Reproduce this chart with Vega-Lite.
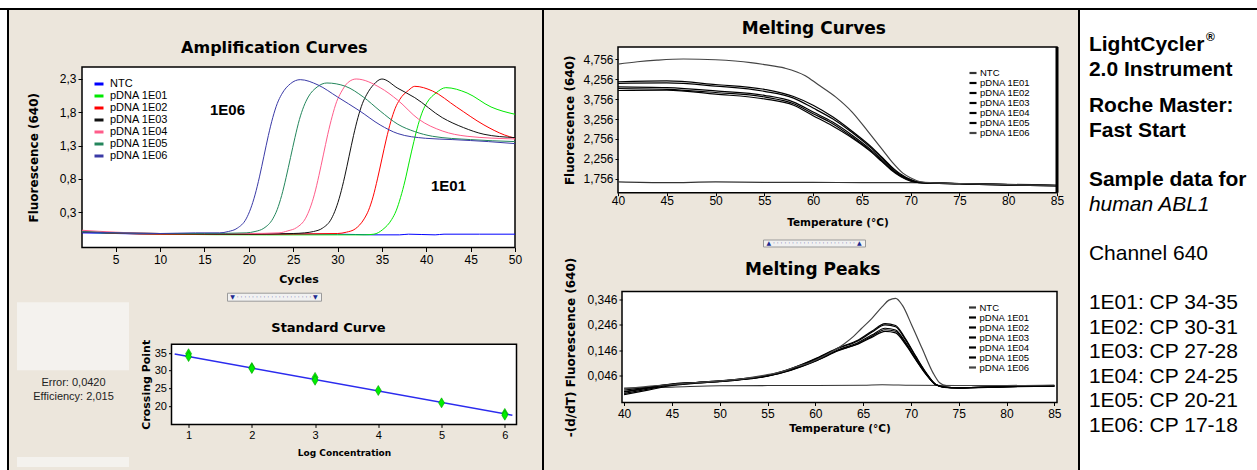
{
"$schema": "https://vega.github.io/schema/vega-lite/v6.json",
"background": "#ECE6DC",
"padding": 0,
"spacing": 0,
"resolve": {"scale": {"color": "independent"}, "legend": {"color": "independent"}},
"config": {
  "view": {"stroke": null},
  "axis": {"grid": false, "domain": false, "tickColor": "#000", "labelColor": "#000", "titleColor": "#000", "labelFont": "Liberation Sans", "titleFont": "DejaVu Sans", "titleFontWeight": "bold", "labelFlush": false, "labelOverlap": false, "labelBound": false, "labelSeparation": 0, "minExtent": 0, "maxExtent": 300, "tickWidth": 1},
  "title": {"font": "DejaVu Sans", "fontWeight": "bold", "color": "#000", "frame": "bounds", "anchor": "middle", "baseline": "alphabetic"},
  "legend": {"labelFont": "Liberation Sans", "labelColor": "#000", "symbolType": "stroke", "padding": 0}
},
"datasets": {
  "amp": [
    {"sample":"NTC","cycle":1,"fluor":-0.01},{"sample":"NTC","cycle":5,"fluor":-0.02},{"sample":"NTC","cycle":10,"fluor":-0.03},{"sample":"NTC","cycle":15,"fluor":-0.03},{"sample":"NTC","cycle":20,"fluor":-0.03},{"sample":"NTC","cycle":25,"fluor":-0.03},{"sample":"NTC","cycle":30,"fluor":-0.03},{"sample":"NTC","cycle":34,"fluor":-0.04},{"sample":"NTC","cycle":37,"fluor":-0.04},{"sample":"NTC","cycle":38,"fluor":-0.03},{"sample":"NTC","cycle":41,"fluor":-0.04},{"sample":"NTC","cycle":42,"fluor":-0.03},{"sample":"NTC","cycle":46,"fluor":-0.03},{"sample":"NTC","cycle":50,"fluor":-0.03},
    {"sample":"pDNA 1E01","cycle":1,"fluor":0.0},{"sample":"pDNA 1E01","cycle":10,"fluor":-0.03},{"sample":"pDNA 1E01","cycle":22,"fluor":-0.04},{"sample":"pDNA 1E01","cycle":30,"fluor":-0.04},{"sample":"pDNA 1E01","cycle":33,"fluor":-0.04},{"sample":"pDNA 1E01","cycle":34.1,"fluor":-0.03},{"sample":"pDNA 1E01","cycle":35.1,"fluor":0.04},{"sample":"pDNA 1E01","cycle":36.1,"fluor":0.19},{"sample":"pDNA 1E01","cycle":36.6,"fluor":0.32},{"sample":"pDNA 1E01","cycle":37.1,"fluor":0.52},{"sample":"pDNA 1E01","cycle":37.6,"fluor":0.77},{"sample":"pDNA 1E01","cycle":38.1,"fluor":1.07},{"sample":"pDNA 1E01","cycle":38.6,"fluor":1.36},{"sample":"pDNA 1E01","cycle":39.1,"fluor":1.62},{"sample":"pDNA 1E01","cycle":39.6,"fluor":1.82},{"sample":"pDNA 1E01","cycle":40.1,"fluor":1.95},{"sample":"pDNA 1E01","cycle":41.1,"fluor":2.09},{"sample":"pDNA 1E01","cycle":42.2,"fluor":2.17},{"sample":"pDNA 1E01","cycle":44.6,"fluor":2.09},{"sample":"pDNA 1E01","cycle":47.3,"fluor":1.88},{"sample":"pDNA 1E01","cycle":50,"fluor":1.77},
    {"sample":"pDNA 1E02","cycle":1,"fluor":0.01},{"sample":"pDNA 1E02","cycle":10,"fluor":-0.03},{"sample":"pDNA 1E02","cycle":20,"fluor":-0.03},{"sample":"pDNA 1E02","cycle":30,"fluor":-0.02},{"sample":"pDNA 1E02","cycle":31,"fluor":0.0},{"sample":"pDNA 1E02","cycle":32,"fluor":0.05},{"sample":"pDNA 1E02","cycle":33,"fluor":0.2},{"sample":"pDNA 1E02","cycle":33.5,"fluor":0.33},{"sample":"pDNA 1E02","cycle":34,"fluor":0.53},{"sample":"pDNA 1E02","cycle":34.5,"fluor":0.8},{"sample":"pDNA 1E02","cycle":35,"fluor":1.1},{"sample":"pDNA 1E02","cycle":35.5,"fluor":1.4},{"sample":"pDNA 1E02","cycle":36,"fluor":1.66},{"sample":"pDNA 1E02","cycle":36.5,"fluor":1.86},{"sample":"pDNA 1E02","cycle":37,"fluor":1.99},{"sample":"pDNA 1E02","cycle":38,"fluor":2.13},{"sample":"pDNA 1E02","cycle":38.7,"fluor":2.19},{"sample":"pDNA 1E02","cycle":40.7,"fluor":2.12},{"sample":"pDNA 1E02","cycle":43.4,"fluor":1.88},{"sample":"pDNA 1E02","cycle":46.5,"fluor":1.61},{"sample":"pDNA 1E02","cycle":48.8,"fluor":1.46},{"sample":"pDNA 1E02","cycle":50,"fluor":1.41},
    {"sample":"pDNA 1E03","cycle":1,"fluor":0.0},{"sample":"pDNA 1E03","cycle":10,"fluor":-0.02},{"sample":"pDNA 1E03","cycle":20,"fluor":-0.03},{"sample":"pDNA 1E03","cycle":25,"fluor":-0.02},{"sample":"pDNA 1E03","cycle":26.3,"fluor":-0.01},{"sample":"pDNA 1E03","cycle":27.3,"fluor":0.01},{"sample":"pDNA 1E03","cycle":28.3,"fluor":0.06},{"sample":"pDNA 1E03","cycle":29.3,"fluor":0.2},{"sample":"pDNA 1E03","cycle":29.8,"fluor":0.35},{"sample":"pDNA 1E03","cycle":30.3,"fluor":0.56},{"sample":"pDNA 1E03","cycle":30.8,"fluor":0.83},{"sample":"pDNA 1E03","cycle":31.3,"fluor":1.14},{"sample":"pDNA 1E03","cycle":31.8,"fluor":1.45},{"sample":"pDNA 1E03","cycle":32.3,"fluor":1.72},{"sample":"pDNA 1E03","cycle":32.8,"fluor":1.93},{"sample":"pDNA 1E03","cycle":33.3,"fluor":2.07},{"sample":"pDNA 1E03","cycle":34.1,"fluor":2.22},{"sample":"pDNA 1E03","cycle":35,"fluor":2.3},{"sample":"pDNA 1E03","cycle":36.8,"fluor":2.16},{"sample":"pDNA 1E03","cycle":38.7,"fluor":2.02},{"sample":"pDNA 1E03","cycle":41.8,"fluor":1.72},{"sample":"pDNA 1E03","cycle":44.2,"fluor":1.57},{"sample":"pDNA 1E03","cycle":46.5,"fluor":1.47},{"sample":"pDNA 1E03","cycle":50,"fluor":1.42},
    {"sample":"pDNA 1E04","cycle":1,"fluor":0.03},{"sample":"pDNA 1E04","cycle":5,"fluor":0.0},{"sample":"pDNA 1E04","cycle":10,"fluor":-0.02},{"sample":"pDNA 1E04","cycle":20,"fluor":-0.02},{"sample":"pDNA 1E04","cycle":23.4,"fluor":-0.01},{"sample":"pDNA 1E04","cycle":24.4,"fluor":0.02},{"sample":"pDNA 1E04","cycle":25.4,"fluor":0.07},{"sample":"pDNA 1E04","cycle":26.4,"fluor":0.21},{"sample":"pDNA 1E04","cycle":26.9,"fluor":0.36},{"sample":"pDNA 1E04","cycle":27.4,"fluor":0.57},{"sample":"pDNA 1E04","cycle":27.9,"fluor":0.85},{"sample":"pDNA 1E04","cycle":28.4,"fluor":1.16},{"sample":"pDNA 1E04","cycle":28.9,"fluor":1.47},{"sample":"pDNA 1E04","cycle":29.4,"fluor":1.74},{"sample":"pDNA 1E04","cycle":29.9,"fluor":1.96},{"sample":"pDNA 1E04","cycle":30.4,"fluor":2.1},{"sample":"pDNA 1E04","cycle":31.2,"fluor":2.25},{"sample":"pDNA 1E04","cycle":32.1,"fluor":2.3},{"sample":"pDNA 1E04","cycle":34.8,"fluor":2.17},{"sample":"pDNA 1E04","cycle":36.8,"fluor":1.98},{"sample":"pDNA 1E04","cycle":39.1,"fluor":1.7},{"sample":"pDNA 1E04","cycle":41.8,"fluor":1.52},{"sample":"pDNA 1E04","cycle":44.6,"fluor":1.44},{"sample":"pDNA 1E04","cycle":50,"fluor":1.4},
    {"sample":"pDNA 1E05","cycle":1,"fluor":0.01},{"sample":"pDNA 1E05","cycle":5,"fluor":-0.01},{"sample":"pDNA 1E05","cycle":10,"fluor":-0.02},{"sample":"pDNA 1E05","cycle":15,"fluor":-0.02},{"sample":"pDNA 1E05","cycle":19.7,"fluor":-0.01},{"sample":"pDNA 1E05","cycle":20.7,"fluor":0.01},{"sample":"pDNA 1E05","cycle":21.7,"fluor":0.06},{"sample":"pDNA 1E05","cycle":22.7,"fluor":0.2},{"sample":"pDNA 1E05","cycle":23.2,"fluor":0.34},{"sample":"pDNA 1E05","cycle":23.7,"fluor":0.55},{"sample":"pDNA 1E05","cycle":24.2,"fluor":0.82},{"sample":"pDNA 1E05","cycle":24.7,"fluor":1.12},{"sample":"pDNA 1E05","cycle":25.2,"fluor":1.42},{"sample":"pDNA 1E05","cycle":25.7,"fluor":1.69},{"sample":"pDNA 1E05","cycle":26.2,"fluor":1.89},{"sample":"pDNA 1E05","cycle":26.7,"fluor":2.03},{"sample":"pDNA 1E05","cycle":27.7,"fluor":2.18},{"sample":"pDNA 1E05","cycle":28.8,"fluor":2.24},{"sample":"pDNA 1E05","cycle":30.9,"fluor":2.19},{"sample":"pDNA 1E05","cycle":32.9,"fluor":2.03},{"sample":"pDNA 1E05","cycle":34.8,"fluor":1.82},{"sample":"pDNA 1E05","cycle":36.8,"fluor":1.62},{"sample":"pDNA 1E05","cycle":38.7,"fluor":1.51},{"sample":"pDNA 1E05","cycle":40.7,"fluor":1.44},{"sample":"pDNA 1E05","cycle":45,"fluor":1.39},{"sample":"pDNA 1E05","cycle":50,"fluor":1.36},
    {"sample":"pDNA 1E06","cycle":1,"fluor":0.0},{"sample":"pDNA 1E06","cycle":5,"fluor":-0.01},{"sample":"pDNA 1E06","cycle":10,"fluor":-0.02},{"sample":"pDNA 1E06","cycle":14,"fluor":-0.01},{"sample":"pDNA 1E06","cycle":16.7,"fluor":-0.01},{"sample":"pDNA 1E06","cycle":17.7,"fluor":0.01},{"sample":"pDNA 1E06","cycle":18.7,"fluor":0.06},{"sample":"pDNA 1E06","cycle":19.7,"fluor":0.2},{"sample":"pDNA 1E06","cycle":20.2,"fluor":0.35},{"sample":"pDNA 1E06","cycle":20.7,"fluor":0.56},{"sample":"pDNA 1E06","cycle":21.2,"fluor":0.83},{"sample":"pDNA 1E06","cycle":21.7,"fluor":1.14},{"sample":"pDNA 1E06","cycle":22.2,"fluor":1.45},{"sample":"pDNA 1E06","cycle":22.7,"fluor":1.72},{"sample":"pDNA 1E06","cycle":23.2,"fluor":1.93},{"sample":"pDNA 1E06","cycle":23.7,"fluor":2.07},{"sample":"pDNA 1E06","cycle":24.7,"fluor":2.23},{"sample":"pDNA 1E06","cycle":25.8,"fluor":2.29},{"sample":"pDNA 1E06","cycle":27.8,"fluor":2.21},{"sample":"pDNA 1E06","cycle":30,"fluor":2.03},{"sample":"pDNA 1E06","cycle":32.5,"fluor":1.82},{"sample":"pDNA 1E06","cycle":34.8,"fluor":1.61},{"sample":"pDNA 1E06","cycle":36.8,"fluor":1.48},{"sample":"pDNA 1E06","cycle":39.9,"fluor":1.41},{"sample":"pDNA 1E06","cycle":43,"fluor":1.39},{"sample":"pDNA 1E06","cycle":47,"fluor":1.36},{"sample":"pDNA 1E06","cycle":50,"fluor":1.33}
  ],
  "ampLabels": [{"label":"1E06","cycle":17.6,"fluor":1.83},{"label":"1E01","cycle":42.5,"fluor":0.7}],
  "melt": [
    {"sample":"NTC","temp":40,"fluor":1.68},{"sample":"NTC","temp":45,"fluor":1.66},{"sample":"NTC","temp":50,"fluor":1.68},{"sample":"NTC","temp":55,"fluor":1.67},{"sample":"NTC","temp":60,"fluor":1.67},{"sample":"NTC","temp":65,"fluor":1.66},{"sample":"NTC","temp":70,"fluor":1.66},{"sample":"NTC","temp":75,"fluor":1.64},{"sample":"NTC","temp":80,"fluor":1.62},{"sample":"NTC","temp":85,"fluor":1.6},
    {"sample":"pDNA 1E01","temp":40,"fluor":4.19},{"sample":"pDNA 1E01","temp":45,"fluor":4.21},{"sample":"pDNA 1E01","temp":50,"fluor":4.12},{"sample":"pDNA 1E01","temp":55,"fluor":4.0},{"sample":"pDNA 1E01","temp":58,"fluor":3.82},{"sample":"pDNA 1E01","temp":60,"fluor":3.6},{"sample":"pDNA 1E01","temp":62,"fluor":3.31},{"sample":"pDNA 1E01","temp":64,"fluor":2.95},{"sample":"pDNA 1E01","temp":66,"fluor":2.55},{"sample":"pDNA 1E01","temp":67,"fluor":2.31},{"sample":"pDNA 1E01","temp":68,"fluor":2.07},{"sample":"pDNA 1E01","temp":69,"fluor":1.87},{"sample":"pDNA 1E01","temp":70,"fluor":1.74},{"sample":"pDNA 1E01","temp":71,"fluor":1.67},{"sample":"pDNA 1E01","temp":75,"fluor":1.64},{"sample":"pDNA 1E01","temp":80,"fluor":1.61},{"sample":"pDNA 1E01","temp":85,"fluor":1.59},
    {"sample":"pDNA 1E02","temp":40,"fluor":4.15},{"sample":"pDNA 1E02","temp":45,"fluor":4.16},{"sample":"pDNA 1E02","temp":50,"fluor":4.08},{"sample":"pDNA 1E02","temp":55,"fluor":3.95},{"sample":"pDNA 1E02","temp":58,"fluor":3.78},{"sample":"pDNA 1E02","temp":60,"fluor":3.53},{"sample":"pDNA 1E02","temp":62,"fluor":3.26},{"sample":"pDNA 1E02","temp":64,"fluor":2.92},{"sample":"pDNA 1E02","temp":66,"fluor":2.52},{"sample":"pDNA 1E02","temp":67,"fluor":2.29},{"sample":"pDNA 1E02","temp":68,"fluor":2.05},{"sample":"pDNA 1E02","temp":69,"fluor":1.85},{"sample":"pDNA 1E02","temp":70,"fluor":1.73},{"sample":"pDNA 1E02","temp":71,"fluor":1.67},{"sample":"pDNA 1E02","temp":75,"fluor":1.64},{"sample":"pDNA 1E02","temp":80,"fluor":1.61},{"sample":"pDNA 1E02","temp":85,"fluor":1.59},
    {"sample":"pDNA 1E03","temp":40,"fluor":4.06},{"sample":"pDNA 1E03","temp":45,"fluor":4.04},{"sample":"pDNA 1E03","temp":50,"fluor":3.96},{"sample":"pDNA 1E03","temp":55,"fluor":3.85},{"sample":"pDNA 1E03","temp":58,"fluor":3.68},{"sample":"pDNA 1E03","temp":60,"fluor":3.43},{"sample":"pDNA 1E03","temp":62,"fluor":3.18},{"sample":"pDNA 1E03","temp":64,"fluor":2.85},{"sample":"pDNA 1E03","temp":66,"fluor":2.47},{"sample":"pDNA 1E03","temp":67,"fluor":2.25},{"sample":"pDNA 1E03","temp":68,"fluor":2.02},{"sample":"pDNA 1E03","temp":69,"fluor":1.83},{"sample":"pDNA 1E03","temp":70,"fluor":1.72},{"sample":"pDNA 1E03","temp":71,"fluor":1.66},{"sample":"pDNA 1E03","temp":75,"fluor":1.64},{"sample":"pDNA 1E03","temp":80,"fluor":1.61},{"sample":"pDNA 1E03","temp":85,"fluor":1.59},
    {"sample":"pDNA 1E04","temp":40,"fluor":4.02},{"sample":"pDNA 1E04","temp":45,"fluor":4.0},{"sample":"pDNA 1E04","temp":50,"fluor":3.92},{"sample":"pDNA 1E04","temp":55,"fluor":3.81},{"sample":"pDNA 1E04","temp":58,"fluor":3.64},{"sample":"pDNA 1E04","temp":60,"fluor":3.39},{"sample":"pDNA 1E04","temp":62,"fluor":3.14},{"sample":"pDNA 1E04","temp":64,"fluor":2.81},{"sample":"pDNA 1E04","temp":66,"fluor":2.44},{"sample":"pDNA 1E04","temp":67,"fluor":2.22},{"sample":"pDNA 1E04","temp":68,"fluor":2.0},{"sample":"pDNA 1E04","temp":69,"fluor":1.82},{"sample":"pDNA 1E04","temp":70,"fluor":1.71},{"sample":"pDNA 1E04","temp":71,"fluor":1.66},{"sample":"pDNA 1E04","temp":75,"fluor":1.63},{"sample":"pDNA 1E04","temp":80,"fluor":1.6},{"sample":"pDNA 1E04","temp":85,"fluor":1.58},
    {"sample":"pDNA 1E05","temp":40,"fluor":3.97},{"sample":"pDNA 1E05","temp":45,"fluor":3.98},{"sample":"pDNA 1E05","temp":50,"fluor":3.88},{"sample":"pDNA 1E05","temp":55,"fluor":3.76},{"sample":"pDNA 1E05","temp":58,"fluor":3.6},{"sample":"pDNA 1E05","temp":60,"fluor":3.34},{"sample":"pDNA 1E05","temp":62,"fluor":3.08},{"sample":"pDNA 1E05","temp":64,"fluor":2.78},{"sample":"pDNA 1E05","temp":66,"fluor":2.42},{"sample":"pDNA 1E05","temp":67,"fluor":2.2},{"sample":"pDNA 1E05","temp":68,"fluor":1.98},{"sample":"pDNA 1E05","temp":69,"fluor":1.81},{"sample":"pDNA 1E05","temp":70,"fluor":1.7},{"sample":"pDNA 1E05","temp":71,"fluor":1.66},{"sample":"pDNA 1E05","temp":75,"fluor":1.63},{"sample":"pDNA 1E05","temp":80,"fluor":1.6},{"sample":"pDNA 1E05","temp":85,"fluor":1.58},
    {"sample":"pDNA 1E06","temp":40,"fluor":4.63},{"sample":"pDNA 1E06","temp":42,"fluor":4.69},{"sample":"pDNA 1E06","temp":44,"fluor":4.73},{"sample":"pDNA 1E06","temp":46.7,"fluor":4.76},{"sample":"pDNA 1E06","temp":50,"fluor":4.74},{"sample":"pDNA 1E06","temp":53.6,"fluor":4.67},{"sample":"pDNA 1E06","temp":55,"fluor":4.62},{"sample":"pDNA 1E06","temp":57.1,"fluor":4.53},{"sample":"pDNA 1E06","temp":59.2,"fluor":4.34},{"sample":"pDNA 1E06","temp":60.5,"fluor":4.12},{"sample":"pDNA 1E06","temp":62.3,"fluor":3.81},{"sample":"pDNA 1E06","temp":64,"fluor":3.43},{"sample":"pDNA 1E06","temp":65.7,"fluor":2.92},{"sample":"pDNA 1E06","temp":67.1,"fluor":2.49},{"sample":"pDNA 1E06","temp":68.2,"fluor":2.15},{"sample":"pDNA 1E06","temp":69.2,"fluor":1.9},{"sample":"pDNA 1E06","temp":70.1,"fluor":1.77},{"sample":"pDNA 1E06","temp":70.9,"fluor":1.69},{"sample":"pDNA 1E06","temp":72,"fluor":1.66},{"sample":"pDNA 1E06","temp":75,"fluor":1.64},{"sample":"pDNA 1E06","temp":80,"fluor":1.61},{"sample":"pDNA 1E06","temp":85,"fluor":1.59}
  ],
  "peak": [
    {"sample":"NTC","temp":40,"dfdt":-0.004},{"sample":"NTC","temp":45,"dfdt":0.0},{"sample":"NTC","temp":50,"dfdt":0.005},{"sample":"NTC","temp":55,"dfdt":0.006},{"sample":"NTC","temp":60,"dfdt":0.006},{"sample":"NTC","temp":65,"dfdt":0.007},{"sample":"NTC","temp":67,"dfdt":0.009},{"sample":"NTC","temp":70,"dfdt":0.007},{"sample":"NTC","temp":75,"dfdt":0.006},{"sample":"NTC","temp":80,"dfdt":0.006},{"sample":"NTC","temp":85,"dfdt":0.006},
    {"sample":"pDNA 1E01","temp":40,"dfdt":-0.012},{"sample":"pDNA 1E01","temp":42.5,"dfdt":0.0},{"sample":"pDNA 1E01","temp":45,"dfdt":0.012},{"sample":"pDNA 1E01","temp":47.5,"dfdt":0.018},{"sample":"pDNA 1E01","temp":50,"dfdt":0.024},{"sample":"pDNA 1E01","temp":52.5,"dfdt":0.033},{"sample":"pDNA 1E01","temp":55,"dfdt":0.046},{"sample":"pDNA 1E01","temp":57.4,"dfdt":0.072},{"sample":"pDNA 1E01","temp":60.2,"dfdt":0.115},{"sample":"pDNA 1E01","temp":62.4,"dfdt":0.155},{"sample":"pDNA 1E01","temp":64.5,"dfdt":0.186},{"sample":"pDNA 1E01","temp":65.9,"dfdt":0.22},{"sample":"pDNA 1E01","temp":67.3,"dfdt":0.25},{"sample":"pDNA 1E01","temp":68.4,"dfdt":0.243},{"sample":"pDNA 1E01","temp":69.4,"dfdt":0.192},{"sample":"pDNA 1E01","temp":70.5,"dfdt":0.122},{"sample":"pDNA 1E01","temp":71.6,"dfdt":0.056},{"sample":"pDNA 1E01","temp":72.6,"dfdt":0.01},{"sample":"pDNA 1E01","temp":73.5,"dfdt":0.0},{"sample":"pDNA 1E01","temp":75,"dfdt":-0.003},{"sample":"pDNA 1E01","temp":80,"dfdt":0.002},{"sample":"pDNA 1E01","temp":85,"dfdt":0.005},
    {"sample":"pDNA 1E02","temp":40,"dfdt":-0.02},{"sample":"pDNA 1E02","temp":42.5,"dfdt":-0.004},{"sample":"pDNA 1E02","temp":45,"dfdt":0.01},{"sample":"pDNA 1E02","temp":47.5,"dfdt":0.017},{"sample":"pDNA 1E02","temp":50,"dfdt":0.023},{"sample":"pDNA 1E02","temp":52.5,"dfdt":0.032},{"sample":"pDNA 1E02","temp":55,"dfdt":0.045},{"sample":"pDNA 1E02","temp":57.4,"dfdt":0.071},{"sample":"pDNA 1E02","temp":60.2,"dfdt":0.113},{"sample":"pDNA 1E02","temp":62.4,"dfdt":0.153},{"sample":"pDNA 1E02","temp":64.5,"dfdt":0.183},{"sample":"pDNA 1E02","temp":65.9,"dfdt":0.216},{"sample":"pDNA 1E02","temp":67.3,"dfdt":0.245},{"sample":"pDNA 1E02","temp":68.4,"dfdt":0.238},{"sample":"pDNA 1E02","temp":69.4,"dfdt":0.188},{"sample":"pDNA 1E02","temp":70.5,"dfdt":0.12},{"sample":"pDNA 1E02","temp":71.6,"dfdt":0.055},{"sample":"pDNA 1E02","temp":72.6,"dfdt":0.01},{"sample":"pDNA 1E02","temp":73.5,"dfdt":-0.001},{"sample":"pDNA 1E02","temp":75,"dfdt":-0.004},{"sample":"pDNA 1E02","temp":80,"dfdt":0.001},{"sample":"pDNA 1E02","temp":85,"dfdt":0.004},
    {"sample":"pDNA 1E03","temp":40,"dfdt":-0.025},{"sample":"pDNA 1E03","temp":42.5,"dfdt":-0.008},{"sample":"pDNA 1E03","temp":45,"dfdt":0.008},{"sample":"pDNA 1E03","temp":47.5,"dfdt":0.016},{"sample":"pDNA 1E03","temp":50,"dfdt":0.022},{"sample":"pDNA 1E03","temp":52.5,"dfdt":0.031},{"sample":"pDNA 1E03","temp":55,"dfdt":0.044},{"sample":"pDNA 1E03","temp":57.4,"dfdt":0.068},{"sample":"pDNA 1E03","temp":60.2,"dfdt":0.108},{"sample":"pDNA 1E03","temp":62.4,"dfdt":0.147},{"sample":"pDNA 1E03","temp":64.5,"dfdt":0.176},{"sample":"pDNA 1E03","temp":65.9,"dfdt":0.205},{"sample":"pDNA 1E03","temp":67.3,"dfdt":0.232},{"sample":"pDNA 1E03","temp":68.4,"dfdt":0.225},{"sample":"pDNA 1E03","temp":69.4,"dfdt":0.178},{"sample":"pDNA 1E03","temp":70.5,"dfdt":0.113},{"sample":"pDNA 1E03","temp":71.6,"dfdt":0.052},{"sample":"pDNA 1E03","temp":72.6,"dfdt":0.01},{"sample":"pDNA 1E03","temp":73.5,"dfdt":0.0},{"sample":"pDNA 1E03","temp":75,"dfdt":-0.003},{"sample":"pDNA 1E03","temp":80,"dfdt":0.002},{"sample":"pDNA 1E03","temp":85,"dfdt":0.004},
    {"sample":"pDNA 1E04","temp":40,"dfdt":-0.03},{"sample":"pDNA 1E04","temp":42.5,"dfdt":-0.012},{"sample":"pDNA 1E04","temp":45,"dfdt":0.006},{"sample":"pDNA 1E04","temp":47.5,"dfdt":0.015},{"sample":"pDNA 1E04","temp":50,"dfdt":0.021},{"sample":"pDNA 1E04","temp":52.5,"dfdt":0.03},{"sample":"pDNA 1E04","temp":55,"dfdt":0.043},{"sample":"pDNA 1E04","temp":57.4,"dfdt":0.066},{"sample":"pDNA 1E04","temp":60.2,"dfdt":0.105},{"sample":"pDNA 1E04","temp":62.4,"dfdt":0.143},{"sample":"pDNA 1E04","temp":64.5,"dfdt":0.172},{"sample":"pDNA 1E04","temp":65.9,"dfdt":0.2},{"sample":"pDNA 1E04","temp":67.3,"dfdt":0.226},{"sample":"pDNA 1E04","temp":68.4,"dfdt":0.22},{"sample":"pDNA 1E04","temp":69.4,"dfdt":0.174},{"sample":"pDNA 1E04","temp":70.5,"dfdt":0.11},{"sample":"pDNA 1E04","temp":71.6,"dfdt":0.05},{"sample":"pDNA 1E04","temp":72.6,"dfdt":0.009},{"sample":"pDNA 1E04","temp":73.5,"dfdt":0.0},{"sample":"pDNA 1E04","temp":75,"dfdt":-0.002},{"sample":"pDNA 1E04","temp":80,"dfdt":0.002},{"sample":"pDNA 1E04","temp":85,"dfdt":0.004},
    {"sample":"pDNA 1E05","temp":40,"dfdt":-0.018},{"sample":"pDNA 1E05","temp":42.5,"dfdt":-0.002},{"sample":"pDNA 1E05","temp":45,"dfdt":0.012},{"sample":"pDNA 1E05","temp":47.5,"dfdt":0.018},{"sample":"pDNA 1E05","temp":50,"dfdt":0.023},{"sample":"pDNA 1E05","temp":52.5,"dfdt":0.031},{"sample":"pDNA 1E05","temp":55,"dfdt":0.044},{"sample":"pDNA 1E05","temp":57.4,"dfdt":0.067},{"sample":"pDNA 1E05","temp":60.2,"dfdt":0.106},{"sample":"pDNA 1E05","temp":62.4,"dfdt":0.145},{"sample":"pDNA 1E05","temp":64.5,"dfdt":0.17},{"sample":"pDNA 1E05","temp":65.9,"dfdt":0.196},{"sample":"pDNA 1E05","temp":67.3,"dfdt":0.22},{"sample":"pDNA 1E05","temp":68.4,"dfdt":0.214},{"sample":"pDNA 1E05","temp":69.4,"dfdt":0.17},{"sample":"pDNA 1E05","temp":70.5,"dfdt":0.108},{"sample":"pDNA 1E05","temp":71.6,"dfdt":0.049},{"sample":"pDNA 1E05","temp":72.6,"dfdt":0.009},{"sample":"pDNA 1E05","temp":73.5,"dfdt":0.0},{"sample":"pDNA 1E05","temp":75,"dfdt":-0.002},{"sample":"pDNA 1E05","temp":80,"dfdt":0.002},{"sample":"pDNA 1E05","temp":85,"dfdt":0.004},
    {"sample":"pDNA 1E06","temp":40,"dfdt":-0.007},{"sample":"pDNA 1E06","temp":42.5,"dfdt":0.003},{"sample":"pDNA 1E06","temp":45,"dfdt":0.01},{"sample":"pDNA 1E06","temp":47.5,"dfdt":0.018},{"sample":"pDNA 1E06","temp":50,"dfdt":0.024},{"sample":"pDNA 1E06","temp":52.5,"dfdt":0.033},{"sample":"pDNA 1E06","temp":54.6,"dfdt":0.046},{"sample":"pDNA 1E06","temp":56.7,"dfdt":0.063},{"sample":"pDNA 1E06","temp":58,"dfdt":0.08},{"sample":"pDNA 1E06","temp":59.5,"dfdt":0.097},{"sample":"pDNA 1E06","temp":61.3,"dfdt":0.13},{"sample":"pDNA 1E06","temp":63,"dfdt":0.17},{"sample":"pDNA 1E06","temp":64,"dfdt":0.2},{"sample":"pDNA 1E06","temp":64.8,"dfdt":0.23},{"sample":"pDNA 1E06","temp":65.9,"dfdt":0.27},{"sample":"pDNA 1E06","temp":67,"dfdt":0.317},{"sample":"pDNA 1E06","temp":67.7,"dfdt":0.343},{"sample":"pDNA 1E06","temp":68.4,"dfdt":0.35},{"sample":"pDNA 1E06","temp":69.1,"dfdt":0.323},{"sample":"pDNA 1E06","temp":70.1,"dfdt":0.243},{"sample":"pDNA 1E06","temp":71.2,"dfdt":0.15},{"sample":"pDNA 1E06","temp":72.3,"dfdt":0.057},{"sample":"pDNA 1E06","temp":73,"dfdt":0.017},{"sample":"pDNA 1E06","temp":73.7,"dfdt":0.006},{"sample":"pDNA 1E06","temp":75,"dfdt":0.006},{"sample":"pDNA 1E06","temp":80,"dfdt":0.006},{"sample":"pDNA 1E06","temp":85,"dfdt":0.008}
  ],
  "std": [{"logc":1,"cp":34.8},{"logc":1,"cp":34.0},{"logc":2,"cp":30.9},{"logc":2,"cp":30.6},{"logc":3,"cp":28.1},{"logc":3,"cp":27.3},{"logc":4,"cp":24.4},{"logc":5,"cp":20.9},{"logc":6,"cp":17.9},{"logc":6,"cp":17.4}],
  "fit": [{"logc":0.78,"cp":34.7},{"logc":6.12,"cp":17.4}],
  "info": [
    {"text":"LightCycler","part":"header"},{"text":"2.0 Instrument","part":"header"},{"text":"Roche Master:","part":"header"},{"text":"Fast Start","part":"header"},{"text":"Sample data for","part":"header"},
    {"text":"human ABL1","part":"gene"},
    {"text":"Channel 640","part":"detail"},{"text":"1E01: CP 34-35","part":"detail"},{"text":"1E02: CP 30-31","part":"detail"},{"text":"1E03: CP 27-28","part":"detail"},{"text":"1E04: CP 24-25","part":"detail"},{"text":"1E05: CP 20-21","part":"detail"},{"text":"1E06: CP 17-18","part":"detail"}
  ]
},
"vconcat": [
  {"width": 1257, "height": 8, "view": {"fill": "#FFFFFF"}, "data": {"values": [{}]}, "mark": {"type": "point", "size": 0, "opacity": 0, "filled": true, "strokeWidth": 0}},
  {"width": 1257, "height": 2, "view": {"fill": "#000000"}, "data": {"values": [{}]}, "mark": {"type": "point", "size": 0, "opacity": 0, "filled": true, "strokeWidth": 0}},
  {"spacing": 0, "resolve": {"scale": {"color": "independent"}, "legend": {"color": "independent"}}, "hconcat": [
    {"width": 7, "height": 460, "view": {"fill": "#FFFFFF"}, "data": {"values": [{}]}, "mark": {"type": "point", "size": 0, "opacity": 0, "filled": true, "strokeWidth": 0}},
    {"width": 2, "height": 460, "view": {"fill": "#000000"}, "data": {"values": [{}]}, "mark": {"type": "point", "size": 0, "opacity": 0, "filled": true, "strokeWidth": 0}},
    {"width": 8, "height": 1, "data": {"values": [{}]}, "mark": {"type": "point", "size": 0, "opacity": 0, "filled": true, "strokeWidth": 0}},
    {"spacing": 5.7, "resolve": {"scale": {"color": "independent"}, "legend": {"color": "independent"}}, "vconcat": [
      {"spacing": 0, "resolve": {"scale": {"color": "independent"}, "legend": {"color": "independent"}}, "vconcat": [
        {"width": 525, "height": 28.3, "data": {"values": [{}]}, "mark": {"type": "point", "size": 0, "opacity": 0, "filled": true, "strokeWidth": 0}},
        {"spacing": 0, "resolve": {"scale": {"color": "independent"}, "legend": {"color": "independent"}}, "hconcat": [
          {"width": 9, "height": 1, "data": {"values": [{}]}, "mark": {"type": "point", "size": 0, "opacity": 0, "filled": true, "strokeWidth": 0}},
          {"width": 433, "height": 180.5,
           "title": {"text": "Amplification Curves", "fontSize": 16, "offset": 11.2},
           "view": {"fill": "#FFFFFF", "stroke": "#000000", "strokeWidth": 1.5},
           "encoding": {
             "x": {"field": "cycle", "type": "quantitative", "scale": {"domain": [1.2, 50], "nice": false, "zero": false},
                   "axis": {"values": [5,10,15,20,25,30,35,40,45,50], "format": "d", "labelOverlap": false, "title": "Cycles", "labelFontSize": 12, "tickSize": 4, "labelPadding": 3, "titleFontSize": 11, "titlePadding": 8.3}},
             "y": {"field": "fluor", "type": "quantitative", "scale": {"domain": [-0.23, 2.48], "nice": false, "zero": false},
                   "axis": {"values": [0.3,0.8,1.3,1.8,2.3], "labelOverlap": false, "labelExpr": "replace(format(datum.value, '.1f'), '.', ',')", "title": "Fluorescence (640)", "labelFontSize": 12, "tickSize": 4, "labelPadding": 2, "titleFontSize": 12, "titlePadding": 19.3}}
           },
           "layer": [
             {"data": {"name": "amp"}, "mark": {"type": "line", "interpolate": "monotone", "strokeWidth": 1, "clip": true},
              "encoding": {
                "color": {"field": "sample", "type": "nominal",
                          "scale": {"domain": ["NTC","pDNA 1E01","pDNA 1E02","pDNA 1E03","pDNA 1E04","pDNA 1E05","pDNA 1E06"], "range": ["#0000FF","#00E800","#FF0000","#111111","#FF5C8A","#24865C","#3A3AA6"]},
                          "legend": {"title": null, "orient": "none", "legendX": 11, "legendY": 11, "symbolType": "stroke", "symbolSize": 81, "symbolStrokeWidth": 3, "labelFontSize": 11, "labelOffset": 5, "rowPadding": 0, "padding": 0}}
              }},
             {"data": {"name": "ampLabels"}, "mark": {"type": "text", "font": "Liberation Sans", "fontSize": 15, "fontWeight": "bold", "color": "#000000"},
              "encoding": {"text": {"field": "label"}}}
           ]}
        ]}
      ]},
      {"spacing": 0.5, "resolve": {"scale": {"color": "independent"}, "legend": {"color": "independent"}}, "vconcat": [
        {"spacing": 0, "hconcat": [
          {"width": 209, "height": 1, "data": {"values": [{}]}, "mark": {"type": "point", "size": 0, "opacity": 0, "filled": true, "strokeWidth": 0}},
          {"width": 94, "height": 8, "view": {"fill": "#F1F1F1", "stroke": "#9A9A9A", "strokeWidth": 1}, "data": {"values": [{"glyph": "▼ · · · · · · · · · · · · · · · · · · · · ▼"}]},
           "mark": {"type": "text", "font": "DejaVu Sans", "fontSize": 6, "color": "#1C2A8F", "baseline": "middle", "align": "center"},
           "encoding": {"text": {"field": "glyph"}}}
        ]},
        {"spacing": 10.5, "resolve": {"scale": {"color": "independent"}, "legend": {"color": "independent"}}, "hconcat": [
          {"spacing": 54.75, "vconcat": [
            {"width": 112, "height": 68, "view": {"fill": "#F4F2EE"}, "data": {"values": [{"k": 0}]}, "mark": {"type": "point", "size": 0, "opacity": 0, "filled": true, "strokeWidth": 0},
             "encoding": {"x": {"field": "k", "type": "quantitative", "axis": {"labels": false, "ticks": false, "domain": false, "title": ["Error: 0,0420", "Efficiency: 2,015"], "titleFont": "Liberation Sans", "titleFontWeight": "normal", "titleFontSize": 11, "titleLineHeight": 14, "titlePadding": 6.25, "titleColor": "#222222"}}}},
            {"width": 112, "height": 10, "view": {"fill": "#F4F2EE"}, "data": {"values": [{}]}, "mark": {"type": "point", "size": 0, "opacity": 0, "filled": true, "strokeWidth": 0}}
          ]},
          {"spacing": 0, "vconcat": [
            {"width": 1, "height": 17.7, "data": {"values": [{}]}, "mark": {"type": "point", "size": 0, "opacity": 0, "filled": true, "strokeWidth": 0}},
            {"width": 345, "height": 80.2,
             "title": {"text": "Standard Curve", "fontSize": 13, "offset": 4.5},
             "view": {"fill": "#FFFFFF", "stroke": "#000000", "strokeWidth": 1.5},
             "encoding": {
               "x": {"field": "logc", "type": "quantitative", "scale": {"domain": [0.73, 6.185], "nice": false, "zero": false},
                     "axis": {"values": [1,2,3,4,5,6], "format": "d", "labelOverlap": false, "title": "Log Concentration", "labelFontSize": 11, "tickSize": 3, "labelPadding": 2, "titleFontSize": 9, "titlePadding": 8}},
               "y": {"field": "cp", "type": "quantitative", "scale": {"domain": [14.8, 37.5], "nice": false, "zero": false},
                     "axis": {"values": [20,25,30,35], "format": "d", "labelOverlap": false, "title": "Crossing Point", "labelFontSize": 11, "tickSize": 3, "labelPadding": 2, "titleFontSize": 11, "titlePadding": 2.8}}
             },
             "layer": [
               {"data": {"name": "fit"}, "mark": {"type": "line", "color": "#2B2BEE", "strokeWidth": 1.5}},
               {"data": {"name": "std"}, "mark": {"type": "point", "shape": "M0,-1L0.6,0L0,1L-0.6,0Z", "size": 100, "filled": true, "color": "#00EE00", "stroke": "#00A000", "strokeWidth": 0.6, "opacity": 1}}
             ]}
          ]}
        ]}
      ]}
    ]},
    {"width": 2, "height": 460, "view": {"fill": "#000000"}, "data": {"values": [{}]}, "mark": {"type": "point", "size": 0, "opacity": 0, "filled": true, "strokeWidth": 0}},
    {"width": 17.5, "height": 1, "data": {"values": [{}]}, "mark": {"type": "point", "size": 0, "opacity": 0, "filled": true, "strokeWidth": 0}},
    {"spacing": 9.5, "resolve": {"scale": {"color": "independent"}, "legend": {"color": "independent"}}, "vconcat": [
      {"spacing": 0, "resolve": {"scale": {"color": "independent"}, "legend": {"color": "independent"}}, "vconcat": [
        {"width": 515.5, "height": 9, "data": {"values": [{}]}, "mark": {"type": "point", "size": 0, "opacity": 0, "filled": true, "strokeWidth": 0}},
        {"spacing": 0, "resolve": {"scale": {"color": "independent"}, "legend": {"color": "independent"}}, "hconcat": [
          {"width": 1, "height": 1, "data": {"values": [{}]}, "mark": {"type": "point", "size": 0, "opacity": 0, "filled": true, "strokeWidth": 0}},
          {"width": 439, "height": 145.7,
           "title": {"text": "Melting Curves", "fontSize": 17, "offset": 7.1},
           "view": {"fill": "#FFFFFF", "stroke": "#000000", "strokeWidth": 1.5},
           "encoding": {
             "x": {"field": "temp", "type": "quantitative", "scale": {"domain": [40, 85], "nice": false, "zero": false},
                   "axis": {"values": [40,45,50,55,60,65,70,75,80,85], "format": "d", "labelOverlap": false, "title": "Temperature (°C)", "labelFontSize": 12, "tickSize": 3, "labelPadding": 0, "titleFontSize": 10.5, "titlePadding": 11}}
           },
           "layer": [
             {"data": {"name": "melt"}, "mark": {"type": "line", "interpolate": "monotone", "strokeWidth": 1.2, "clip": true},
              "encoding": {
                "y": {"field": "fluor", "type": "quantitative", "scale": {"domain": [1.41, 5.06], "nice": false, "zero": false},
                      "axis": {"values": [1.756,2.256,2.756,3.256,3.756,4.256,4.756], "labelOverlap": false, "labelExpr": "replace(format(datum.value, '.3f'), '.', ',')", "title": "Fluorescence (640)", "labelFontSize": 12, "tickSize": 3, "labelPadding": 2, "titleFontSize": 12, "titlePadding": 6}},
                "color": {"field": "sample", "type": "nominal",
                          "scale": {"domain": ["NTC","pDNA 1E01","pDNA 1E02","pDNA 1E03","pDNA 1E04","pDNA 1E05","pDNA 1E06"], "range": ["#333333","#000000","#000000","#000000","#000000","#000000","#444444"]},
                          "legend": {"title": null, "orient": "none", "legendX": 350, "legendY": 21, "symbolType": "stroke", "symbolSize": 49, "symbolStrokeWidth": 2.2, "labelFontSize": 9.5, "labelOffset": 2, "rowPadding": 0, "padding": 0}}
              }},
             {"data": {"values": [{"temp": 85}]}, "mark": {"type": "rule", "strokeWidth": 3, "color": "#000000"}, "encoding": {}}
           ]}
        ]}
      ]},
      {"spacing": 9, "resolve": {"scale": {"color": "independent"}, "legend": {"color": "independent"}}, "vconcat": [
        {"spacing": 0, "hconcat": [
          {"width": 199.5, "height": 1, "data": {"values": [{}]}, "mark": {"type": "point", "size": 0, "opacity": 0, "filled": true, "strokeWidth": 0}},
          {"width": 102, "height": 7, "view": {"fill": "#F1F1F1", "stroke": "#9A9A9A", "strokeWidth": 1}, "data": {"values": [{"glyph": "▲ · · · · · · · · · · · · · · · · · · · · · · ▲"}]},
           "mark": {"type": "text", "font": "DejaVu Sans", "fontSize": 6, "color": "#1C2A8F", "baseline": "middle", "align": "center"},
           "encoding": {"text": {"field": "glyph"}}}
        ]},
        {"spacing": 0, "resolve": {"scale": {"color": "independent"}, "legend": {"color": "independent"}}, "hconcat": [
          {"width": 1, "height": 1, "data": {"values": [{}]}, "mark": {"type": "point", "size": 0, "opacity": 0, "filled": true, "strokeWidth": 0}},
          {"width": 435, "height": 111,
           "title": {"text": "Melting Peaks", "fontSize": 17, "offset": -22.2},
           "view": {"fill": "#FFFFFF", "stroke": "#000000", "strokeWidth": 1.5},
           "data": {"name": "peak"},
           "mark": {"type": "line", "interpolate": "monotone", "strokeWidth": 1.2, "clip": true},
           "encoding": {
             "x": {"field": "temp", "type": "quantitative", "scale": {"domain": [39.78, 85.28], "nice": false, "zero": false},
                   "axis": {"values": [40,45,50,55,60,65,70,75,80,85], "format": "d", "labelOverlap": false, "title": "Temperature (°C)", "labelFontSize": 12, "tickSize": 3, "labelPadding": 3, "titleFontSize": 10.5, "titlePadding": 3.5}},
             "y": {"field": "dfdt", "type": "quantitative", "scale": {"domain": [-0.061, 0.377], "nice": false, "zero": false},
                   "axis": {"values": [0.046,0.146,0.246,0.346], "labelOverlap": false, "labelExpr": "replace(format(datum.value, '.3f'), '.', ',')", "title": "-(d/dT) Fluorescence (640)", "labelFontSize": 12, "tickSize": 3, "labelPadding": 2, "titleFontSize": 12, "titlePadding": 9.5}},
             "color": {"field": "sample", "type": "nominal",
                       "scale": {"domain": ["NTC","pDNA 1E01","pDNA 1E02","pDNA 1E03","pDNA 1E04","pDNA 1E05","pDNA 1E06"], "range": ["#333333","#000000","#000000","#000000","#000000","#000000","#444444"]},
                       "legend": {"title": null, "orient": "none", "legendX": 345.5, "legendY": 11, "symbolType": "stroke", "symbolSize": 49, "symbolStrokeWidth": 2.2, "labelFontSize": 9.5, "labelOffset": 2, "rowPadding": 0, "padding": 0}}
           }}
        ]}
      ]}
    ]},
    {"width": 2, "height": 460, "view": {"fill": "#000000"}, "data": {"values": [{}]}, "mark": {"type": "point", "size": 0, "opacity": 0, "filled": true, "strokeWidth": 0}},
    {"width": 178, "height": 460, "view": {"fill": "#FFFFFF"},
     "data": {"name": "info"},
     "encoding": {
       "y": {"field": "text", "type": "nominal", "axis": null,
             "scale": {"type": "point", "padding": 0, "range": [35, 416],
                       "domain": ["LightCycler","_1","2.0 Instrument","_3","_4","Roche Master:","_6","Fast Start","_8","_9","_10","Sample data for","_12","human ABL1","_14","_15","_16","Channel 640","_18","_19","_20","1E01: CP 34-35","_22","1E02: CP 30-31","_24","1E03: CP 27-28","_26","1E04: CP 24-25","_28","1E05: CP 20-21","_30","1E06: CP 17-18"]}},
       "x": {"datum": 0, "type": "quantitative", "scale": {"domain": [-0.05, 0.95], "nice": false, "zero": false}, "axis": null},
       "text": {"field": "text"}
     },
     "layer": [
       {"transform": [{"filter": "datum.part === 'header'"}], "mark": {"type": "text", "align": "left", "baseline": "middle", "font": "Liberation Sans", "fontSize": 21, "fontWeight": "bold", "color": "#000000"}},
       {"transform": [{"filter": "datum.part === 'gene'"}], "mark": {"type": "text", "align": "left", "baseline": "middle", "font": "Liberation Sans", "fontSize": 21, "fontStyle": "italic", "color": "#000000"}},
       {"transform": [{"filter": "datum.part === 'detail'"}], "mark": {"type": "text", "align": "left", "baseline": "middle", "font": "Liberation Sans", "fontSize": 21, "color": "#000000"}},
       {"data": {"values": [{"symbol": "®"}]}, "mark": {"type": "text", "align": "left", "baseline": "middle", "font": "Liberation Sans", "fontSize": 12, "fontWeight": "bold", "color": "#000000", "dx": 117, "dy": -8},
        "encoding": {"y": {"datum": "LightCycler", "type": "nominal"}, "text": {"field": "symbol"}}}
     ]}
  ]}
]
}
